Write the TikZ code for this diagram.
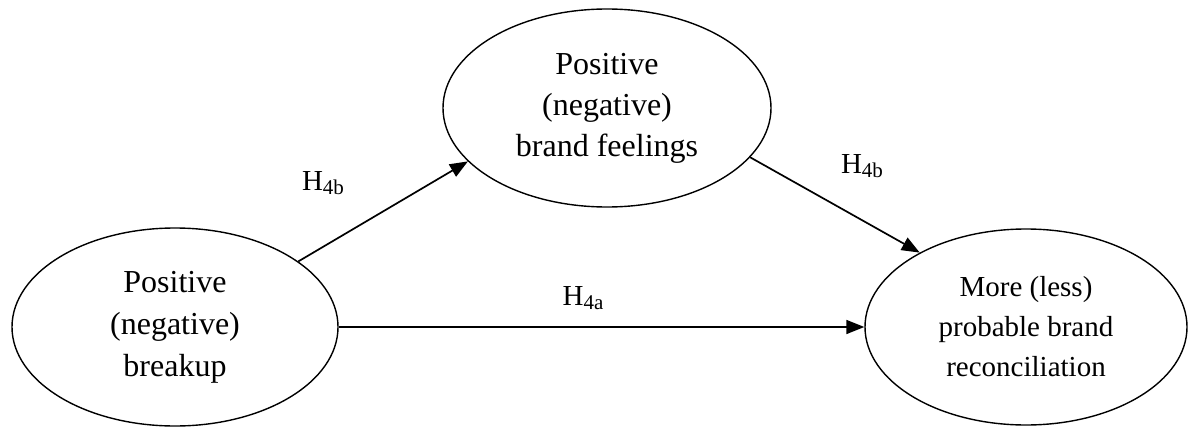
\documentclass[tikz,border=0pt]{standalone}
\usepackage{fontspec}
\setmainfont{Liberation Serif}
\usetikzlibrary{shapes.geometric,arrows.meta}
\newcommand{\hyp}[1]{H\raisebox{-4pt}{\fontsize{21}{21}\selectfont #1}}
\tikzset{
  construct/.style={draw, ellipse, line width=1.4pt, inner sep=0pt, align=center},
  path/.style={line width=1.7pt, -{Triangle[length=18pt,width=14pt]}},
  hlabel/.style={inner sep=0pt, font=\fontsize{29}{29}\selectfont}
}
\begin{document}
\begin{tikzpicture}[x=1pt,y=-1pt]
\useasboundingbox (0,0) rectangle (1188,428);
\node[construct, minimum width=326pt, minimum height=198pt, font=\fontsize{32}{42}\selectfont] (left) at (175,327) {Positive\\(negative)\\breakup};
\node[construct, minimum width=328pt, minimum height=198pt, font=\fontsize{32}{41}\selectfont] (top) at (607,108) {Positive\\(negative)\\brand feelings};
\node[construct, minimum width=322pt, minimum height=196pt, font=\fontsize{29}{40}\selectfont] (right) at (1026,327) {More (less)\\probable brand\\reconciliation};
\draw[path] (left.28.9) -- (top.201.2);
\draw[path] (top.341.3) -- (right.145.3);
\draw[path] (left.east) -- (right.west);
\node[hlabel] (l1) at (323,183) {\hyp{4b}};
\node[hlabel] (l2) at (862,166) {\hyp{4b}};
\node[hlabel] (l3) at (583,298) {\hyp{4a}};
\end{tikzpicture}
\end{document}
